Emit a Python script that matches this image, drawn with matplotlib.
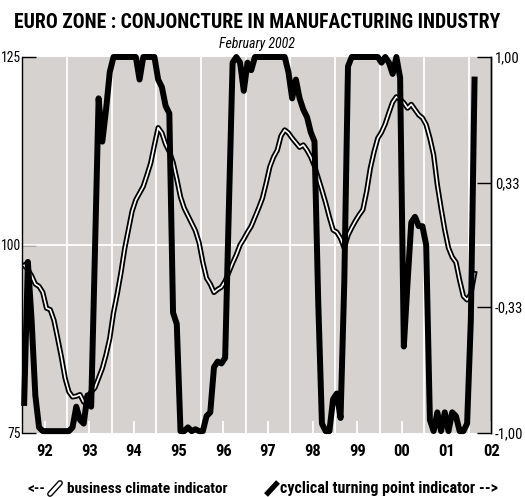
import matplotlib
matplotlib.use('Agg')
import matplotlib.pyplot as plt
import numpy as np
from matplotlib.lines import Line2D
from matplotlib import font_manager

# ---------------- data (monthly, Jan 1992 - Feb 2002) ----------------
months = np.arange(122)
x_dates = 1992 + (months + 0.5) / 12.0

business_climate = [
    97.3, 96.7, 95.9, 94.8, 94.5, 93.7, 91.6, 91.4, 90.0, 87.6, 85.1, 82.3,
    80.5, 79.8, 79.9, 80.1, 79.1, 79.7, 80.5, 81.0, 82.3, 83.6, 85.4, 87.6,
    91.0, 93.5, 96.3, 99.5, 102.0, 104.5, 106.0, 106.9, 107.8, 109.3, 110.9, 113.3,
    115.6, 114.9, 113.4, 112.4, 111.0, 108.8, 106.4, 104.9, 103.9, 102.9, 101.9, 100.3,
    97.7, 95.6, 94.8, 93.7, 94.1, 94.4, 95.2, 96.4, 97.6, 98.7, 100.0, 100.8,
    101.7, 102.5, 103.7, 104.9, 106.2, 108.2, 110.4, 111.7, 112.6, 114.5, 115.3, 114.9,
    114.2, 113.6, 113.0, 113.3, 112.6, 111.7, 110.5, 108.9, 107.3, 105.6, 103.7, 102.0,
    101.7, 100.9, 99.6, 101.3, 102.3, 103.2, 104.0, 104.7, 107.1, 110.2, 112.4, 114.2,
    115.0, 116.1, 117.6, 119.0, 119.7, 119.4, 118.9, 118.2, 118.7, 118.0, 117.3, 116.9,
    116.0, 114.2, 112.0, 108.0, 104.9, 102.0, 99.6, 98.4, 97.7, 95.3, 93.2, 92.7,
    93.5, 96.2,
]

turning_point = [
    -0.84, -0.09, -0.40, -0.80, -0.97, -0.99, -0.99, -0.99, -0.99, -0.99, -0.99, -0.99,
    -0.99, -0.97, -0.86, -0.93, -0.95, -0.80, -0.86, -0.05, 0.78, 0.55, 0.72, 0.92,
    1.00, 1.00, 1.00, 1.00, 1.00, 1.00, 1.00, 0.88, 1.00, 1.00, 1.00, 1.00,
    0.88, 0.84, 0.74, 0.70, -0.36, -0.42, -0.99, -0.99, -0.97, -0.99, -0.98, -0.99,
    -0.99, -0.91, -0.89, -0.65, -0.62, -0.63, -0.60, 0.20, 0.97, 1.00, 0.97, 0.82,
    0.97, 0.93, 1.00, 1.00, 1.00, 1.00, 1.00, 1.00, 1.00, 1.00, 1.00, 0.92,
    0.78, 0.88, 0.78, 0.72, 0.68, 0.60, 0.55, -0.30, -0.95, -0.99, -0.99, -0.82,
    -0.79, -0.92, -0.20, 0.95, 1.00, 1.00, 1.00, 1.00, 1.00, 1.00, 1.00, 1.00,
    0.97, 1.00, 0.97, 0.91, 1.00, 0.89, -0.54, -0.20, 0.12, 0.15, 0.10, 0.10,
    0.00, -0.93, -0.99, -0.89, -0.99, -0.89, -0.99, -0.89, -0.91, -0.99, -0.99, -0.95,
    -0.40, 0.88,
]

year_ticks = [1992.5 + k for k in range(11)]
year_labels = ['92', '93', '94', '95', '96', '97', '98', '99', '00', '01', '02']
year_bounds = [1993 + k for k in range(10)]
left_ticks = [75, 100, 125]
left_labels = ['75', '100', '125']
right_ticks = [-1.0, -0.33, 0.33, 1.0]
right_labels = ['-1,00', '-0,33', '0,33', '1,00']

title = 'EURO ZONE : CONJONCTURE IN MANUFACTURING INDUSTRY'
subtitle = 'February 2002'
legend_left = 'business climate indicator'
legend_right = 'cyclical turning point indicator -->'

# ---------------- fonts ----------------
available = {f.name for f in font_manager.fontManager.ttflist}
narrow_candidates = ['Liberation Sans Narrow', 'Arial Narrow', 'DejaVu Sans Condensed',
                     'Roboto Condensed', 'Open Sans Condensed', 'Liberation Sans']
FONT = next((c for c in narrow_candidates if c in available), 'DejaVu Sans')
plt.rcParams['font.family'] = [FONT, 'DejaVu Sans']

W, H = 525, 497
fig = plt.figure(figsize=(W / 100, H / 100), dpi=100)
ax = fig.add_axes([22.3 / W, (H - 433) / H, 469 / W, 376 / H])
ax.set_facecolor('#d5d2cf')
ax.set_axisbelow(True)
ax.set_xlim(1992.0, 2002.5)
ax.set_ylim(75, 125)

for s in ['top', 'bottom']:
    ax.spines[s].set_visible(False)
ax.spines['left'].set_linewidth(1.0)
ax.spines['right'].set_linewidth(1.0)

# grid: white vertical lines at year boundaries, horizontal at 100
for yb in year_bounds:
    ax.axvline(yb, color='white', lw=1.3, zorder=0.6)
ax.axhline(100, color='white', lw=1.3, zorder=0.6)

ax.set_xticks(year_ticks)
ax.set_xticklabels(year_labels, fontsize=12, fontweight='bold')
ax.tick_params(axis='x', direction='in', length=9, width=1.3, color='white', pad=8)

ax.set_yticks(left_ticks)
ax.set_yticklabels(left_labels, fontsize=9.8)
ax.tick_params(axis='y', direction='in', length=10, width=1.0, color='black', pad=1)

# business climate indicator: double line
ax.plot(x_dates, business_climate, color='black', lw=3.8, zorder=3,
        solid_joinstyle='round')
ax.plot(x_dates, business_climate, color='white', lw=1.2, zorder=3.1,
        solid_joinstyle='round')

# cyclical turning point indicator on right axis
ax2 = ax.twinx()
ax2.set_ylim(-1, 1)
for s in ['top', 'bottom', 'left']:
    ax2.spines[s].set_visible(False)
ax2.spines['right'].set_linewidth(1.0)
ax2.set_yticks(right_ticks)
ax2.set_yticklabels(right_labels, fontsize=10.5)
ax2.tick_params(axis='y', direction='in', length=10, width=1.0, color='black', pad=2.5)
ax2.plot(x_dates, turning_point, color='black', lw=4.3, zorder=4,
         solid_joinstyle='round', clip_on=False)

# titles
def fx(px):
    return px / W

def fy(py):
    return 1 - py / H

t_title = fig.text(fx(257), fy(22), title, ha='center', va='center',
                   fontsize=14, fontweight='bold')
t_sub = fig.text(fx(257), fy(44), subtitle, ha='center', va='center',
                 fontsize=9.5, style='italic')

# legend
t_arrow = fig.text(fx(27), fy(489), '<--', ha='left', va='center', fontsize=10.5,
                   fontweight='bold')
fig.add_artist(Line2D([fx(50), fx(60)], [fy(494), fy(483)], color='black', lw=4.2,
                      solid_capstyle='round'))
fig.add_artist(Line2D([fx(50), fx(60)], [fy(494), fy(483)], color='white', lw=2.2,
                      solid_capstyle='round'))
t_leg1 = fig.text(fx(67), fy(489), legend_left, ha='left', va='center', fontsize=10.5,
                  fontweight='bold')
fig.add_artist(Line2D([fx(266), fx(278)], [fy(495), fy(482)], color='black', lw=3.8,
                      solid_capstyle='butt'))
t_leg2 = fig.text(fx(280), fy(489), legend_right, ha='left', va='center', fontsize=10.5,
                  fontweight='bold')

# fit text widths to the reference widths
fig.canvas.draw()
renderer = fig.canvas.get_renderer()
for t, target, cap in [(t_title, 487, 14.5), (t_sub, 89, 10), (t_leg1, 161, 11.5),
                       (t_leg2, 224, 11.5), (t_arrow, 18, 11.5)]:
    w = t.get_window_extent(renderer).width
    t.set_fontsize(min(cap, t.get_fontsize() * target / w))

# keep the left tick labels inside the figure
for lab in ax.get_yticklabels():
    bb = lab.get_window_extent(renderer)
    if bb.x0 < 0:
        lab.set_fontsize(lab.get_fontsize() * (bb.x1 - 0.5) / bb.width)

fig.savefig('out.png', dpi=100)
